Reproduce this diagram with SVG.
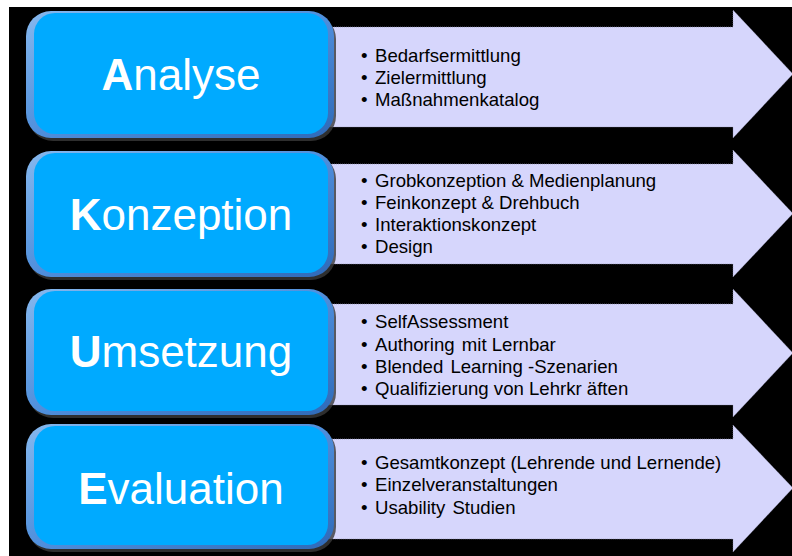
<svg xmlns="http://www.w3.org/2000/svg" width="792" height="556" viewBox="0 0 792 556">
<style>
.title{font-family:"Liberation Sans",Arial,sans-serif;font-size:44px;fill:#ffffff;text-anchor:middle}
.title .b{font-weight:bold}
.item{font-family:"Liberation Sans",Arial,sans-serif;font-size:18.6px;fill:#000000}
.arrow{fill:#d6d6fc;stroke:#8a8aa8;stroke-width:0.6;stroke-dasharray:1 1}
.bevel{fill:url(#bev)}
.face{fill:#00aaff}
.shadow{fill:#3a3a3a;opacity:0.8}
</style>
<defs>
<linearGradient id="bev" x1="0" y1="0" x2="1" y2="1">
<stop offset="0" stop-color="#86b8ee"/>
<stop offset="0.5" stop-color="#4f8fdc"/>
<stop offset="1" stop-color="#2f6ab8"/>
</linearGradient>
</defs>
<rect x="0" y="0" width="792" height="556" fill="#ffffff"/>
<rect x="9" y="7" width="783" height="549" fill="#000000"/>
<g id="connectors"/>
<g id="stage-analyse">
<polygon class="arrow" points="320,27 733,27 733,10 793,74 733,138 733,127 320,127"/>
<rect class="shadow" x="28" y="14" width="308" height="127" rx="25"/>
<rect class="bevel" x="26" y="11" width="308" height="127" rx="25"/>
<rect class="face" x="34" y="13" width="294" height="121" rx="21"/>
<text class="title" x="181" y="90"><tspan class="b">A</tspan>nalyse</text>
<text class="item" x="361" y="62">•</text><text class="item" x="375" y="62">Bedarfsermittlung</text>
<text class="item" x="361" y="84">•</text><text class="item" x="375" y="84">Zielermittlung</text>
<text class="item" x="361" y="106">•</text><text class="item" x="375" y="106">Maßnahmenkatalog</text>
</g>
<g id="stage-konzeption">
<polygon class="arrow" points="320,164 733,164 733,150 793,213.5 733,277 733,264 320,264"/>
<rect class="shadow" x="28" y="154" width="308" height="126" rx="25"/>
<rect class="bevel" x="26" y="151" width="308" height="126" rx="25"/>
<rect class="face" x="34" y="153" width="294" height="120" rx="21"/>
<text class="title" x="181" y="230"><tspan class="b">K</tspan>onzeption</text>
<text class="item" x="361" y="187">•</text><text class="item" x="375" y="187">Grobkonzeption &amp; Medienplanung</text>
<text class="item" x="361" y="209">•</text><text class="item" x="375" y="209">Feinkonzept &amp; Drehbuch</text>
<text class="item" x="361" y="231">•</text><text class="item" x="375" y="231">Interaktionskonzept</text>
<text class="item" x="361" y="253">•</text><text class="item" x="375" y="253">Design</text>
</g>
<g id="stage-umsetzung">
<polygon class="arrow" points="320,304 733,304 733,289 793,353 733,417 733,405 320,405"/>
<rect class="shadow" x="28" y="292" width="308" height="126" rx="25"/>
<rect class="bevel" x="26" y="289" width="308" height="126" rx="25"/>
<rect class="face" x="34" y="291" width="294" height="120" rx="21"/>
<text class="title" x="181" y="367"><tspan class="b">U</tspan>msetzung</text>
<text class="item" x="361" y="328">•</text><text class="item" x="375" y="328">SelfAssessment</text>
<text class="item" x="361" y="351">•</text><text class="item" x="375" y="351">Authoring <tspan dx="2">mit Lernbar</tspan></text>
<text class="item" x="361" y="373">•</text><text class="item" x="375" y="373">Blended <tspan dx="2">Learning -Szenarien</tspan></text>
<text class="item" x="361" y="395">•</text><text class="item" x="375" y="395">Qualifizierung von Lehrkr äften</text>
</g>
<g id="stage-evaluation">
<polygon class="arrow" points="320,439 733,439 733,425 793,488 733,552 733,539 320,539"/>
<rect class="shadow" x="28" y="427" width="308" height="125" rx="25"/>
<rect class="bevel" x="26" y="424" width="308" height="125" rx="25"/>
<rect class="face" x="34" y="426" width="294" height="119" rx="21"/>
<text class="title" x="181" y="504"><tspan class="b">E</tspan>valuation</text>
<text class="item" x="361" y="469">•</text><text class="item" x="375" y="469">Gesamtkonzept (Lehrende und Lernende)</text>
<text class="item" x="361" y="491">•</text><text class="item" x="375" y="491">Einzelveranstaltungen</text>
<text class="item" x="361" y="514">•</text><text class="item" x="375" y="514">Usability <tspan dx="2">Studien</tspan></text>
</g>
</svg>
